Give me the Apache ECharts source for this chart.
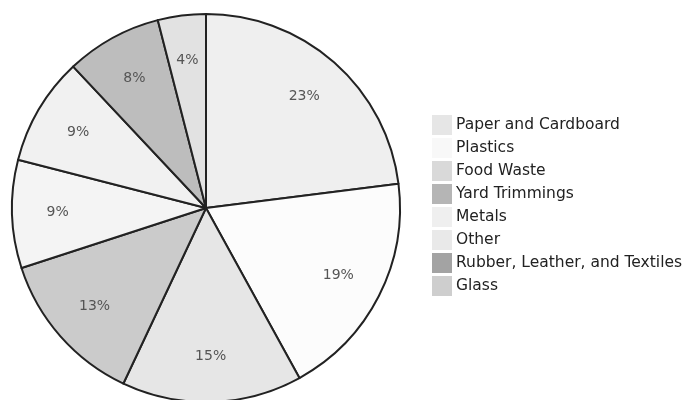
<!DOCTYPE html>
<html><head><meta charset="utf-8">
<script src="https://cdn.jsdelivr.net/npm/echarts@6/dist/echarts.min.js"></script>
<style>html,body{margin:0;padding:0;background:#fff}#c{width:688px;height:400px}</style>
</head><body><div id="c"></div>
<script>
const categories = ["Paper and Cardboard","Plastics","Food Waste","Yard Trimmings","Metals","Other","Rubber, Leather, and Textiles","Glass"];
const values = [23,19,15,13,9,9,8,4];
const sliceColors = ["#efefef","#fcfcfc","#e6e6e6","#cbcbcb","#f4f4f4","#f1f1f1","#bdbdbd","#e2e2e2"];
const swatchColors = ["#e6e6e6","#f8f8f8","#d9d9d9","#b5b5b5","#efefef","#e9e9e9","#a3a3a3","#cecece"];

const chart = echarts.init(document.getElementById('c'), null, {renderer:'canvas'});
const font = '"DejaVu Sans", Verdana, sans-serif';
chart.setOption({
  animation:false,
  legend:{
    orient:'vertical', left:432, top:115, padding:0, itemWidth:20, itemHeight:20, itemGap:3,
    icon:'rect', selectedMode:false,
    textStyle:{fontFamily:font, fontSize:15.5, lineHeight:20, color:'#222', padding:[0,0,0,-1]},
    data: categories.map((n,i)=>({name:n, itemStyle:{color:swatchColors[i], borderWidth:0}}))
  },
  series:[
    {
      type:'pie', center:[206,208], radius:[0,194], startAngle:90, clockwise:true,
      silent:true,
      label:{show:false}, labelLine:{show:false},
      itemStyle:{borderColor:'#222', borderWidth:2},
      data: categories.map((n,i)=>({name:n, value:values[i], itemStyle:{color:sliceColors[i]}}))
    },
    {
      type:'pie', center:[206,208], radius:[97,194], startAngle:90, clockwise:true,
      silent:true, legendHoverLink:false,
      itemStyle:{color:'rgba(0,0,0,0)', borderWidth:0},
      label:{show:true, position:'inside', formatter:'{c}%', fontFamily:font, fontSize:14, color:'#555'},
      labelLine:{show:false},
      data: categories.map((n,i)=>({name:n+' ', value:values[i]}))
    }
  ]
});
</script></body></html>
